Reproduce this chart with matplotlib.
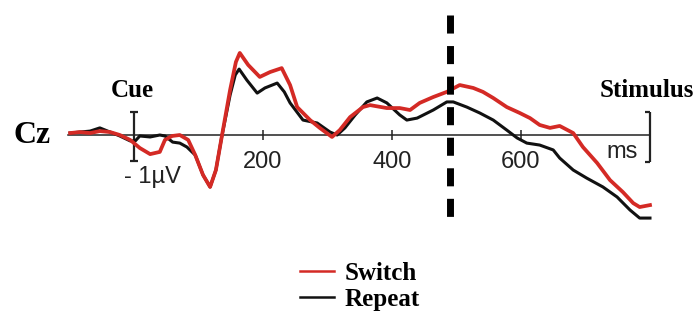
import matplotlib.pyplot as plt
import numpy as np

# ERP at Cz, time in ms, amplitude in microvolt
t_switch = [-99, -84, -68, -53, -37, -22, -6, 9, 25, 40, 48, 59, 71, 84, 95, 107, 118,
            127, 136, 149, 158, 164, 177, 195, 211, 229, 242, 253, 273, 288, 307, 319,
            335, 355, 366, 392, 412, 428, 443, 464, 485, 505, 526, 541, 557, 578, 598,
            614, 629, 645, 660, 681, 696, 718, 738, 758, 774, 784, 800]
v_switch = [0.08, 0.12, 0.08, 0.16, 0.12, 0.0, -0.2, -0.53, -0.78, -0.69, -0.2, -0.04,
            0.0, -0.2, -0.82, -1.63, -2.12, -1.43, -0.08, 1.84, 2.98, 3.35, 2.86, 2.37,
            2.57, 2.73, 2.04, 1.14, 0.61, 0.29, -0.08, 0.2, 0.73, 1.14, 1.22, 1.10, 1.10,
            1.02, 1.31, 1.55, 1.76, 2.04, 1.92, 1.76, 1.51, 1.14, 0.90, 0.69, 0.41, 0.29,
            0.37, 0.08, -0.49, -1.14, -1.84, -2.33, -2.78, -2.94, -2.86]

t_repeat = [-99, -84, -68, -53, -37, -22, -6, 2, 9, 25, 40, 48, 60, 71, 82, 95, 107, 118,
            127, 136, 149, 157, 163, 175, 191, 203, 222, 233, 242, 262, 284, 304, 315,
            327, 343, 361, 377, 392, 412, 423, 439, 464, 485, 495, 516, 536, 557, 578,
            594, 609, 629, 650, 660, 681, 702, 727, 749, 769, 784, 800]
v_repeat = [0.08, 0.12, 0.16, 0.29, 0.12, -0.04, -0.24, -0.24, -0.04, -0.08, 0.0, -0.04,
            -0.29, -0.33, -0.49, -0.82, -1.63, -2.12, -1.43, -0.08, 1.63, 2.45, 2.69,
            2.24, 1.71, 1.92, 2.12, 1.76, 1.31, 0.61, 0.49, 0.12, 0.0, 0.29, 0.82, 1.35,
            1.51, 1.31, 0.82, 0.61, 0.69, 1.02, 1.35, 1.35, 1.14, 0.90, 0.61, 0.20, -0.12,
            -0.33, -0.41, -0.61, -0.94, -1.43, -1.76, -2.12, -2.53, -3.06, -3.39, -3.39]

tick_ms = [200, 400, 600]
stim_ms = 800
switch_line_ms = 490

serif = 'Liberation Serif'
sans = 'Liberation Sans'

fig = plt.figure(figsize=(6.97, 3.2), dpi=100)
ax = fig.add_axes([0, 0, 1, 1])
ax.set_xlim(-207.75, 872.9)
ax.set_ylim(-7.55, 5.51)
ax.axis('off')

# time axis
ax.plot([-102, stim_ms], [0, 0], color='#222222', lw=1.1, zorder=1)
ax.vlines(tick_ms, -0.2, 0.2, color='#222222', lw=1.1, zorder=1)
for t in tick_ms:
    ax.text(t, -1.35, str(t), family=sans, fontsize=17, color='#222222',
            ha='center', va='baseline')

# scale bar at cue onset
ax.vlines(0, -1.06, 0.94, color='#222222', lw=1.6, zorder=1)
ax.hlines([-1.06, 0.94], -6, 6, color='#222222', lw=1.6, zorder=1)
ax.text(29, -1.96, '- 1µV', family=sans, fontsize=17, color='#222222',
        ha='center', va='baseline')

# stimulus marker
ax.vlines(stim_ms, -1.1, 0.94, color='#222222', lw=1.6, zorder=1)
ax.hlines([-1.1, 0.94], stim_ms - 8, stim_ms, color='#222222', lw=1.6, zorder=1)
ax.text(757, -0.94, 'ms', family=sans, fontsize=17, color='#222222',
        ha='center', va='baseline')

# waveforms
ax.plot(t_repeat, v_repeat, color='#111111', lw=2.2, label='Repeat', zorder=3,
        solid_joinstyle='round')
ax.plot(t_switch, v_switch, color='#d42a25', lw=2.7, label='Switch', zorder=4,
        solid_joinstyle='round')

# dashed line
ax.plot([switch_line_ms, switch_line_ms], [4.9, -3.8], color='black', lw=5,
        dashes=(2.6, 1.8), dash_capstyle='butt', zorder=5)

# labels
ax.text(-130, -0.33, 'Cz', family=serif, fontsize=23, weight='bold',
        ha='right', va='baseline')
ax.text(-3, 1.55, 'Cue', family=serif, fontsize=18, weight='bold',
        ha='center', va='baseline')
ax.text(795, 1.55, 'Stimulus', family=serif, fontsize=18, weight='bold',
        ha='center', va='baseline')

h, l = ax.get_legend_handles_labels()
leg = ax.legend(h[::-1], l[::-1], loc='upper left', bbox_to_anchor=(300 / 697, 1 - 262 / 320),
                frameon=False, prop={'family': serif, 'weight': 'bold', 'size': 18},
                handlelength=1.35, handletextpad=0.45, labelspacing=0.12,
                borderpad=0, borderaxespad=0)
for line in leg.get_lines():
    line.set_linewidth(1.8)

fig.savefig('out.png', dpi=100)
